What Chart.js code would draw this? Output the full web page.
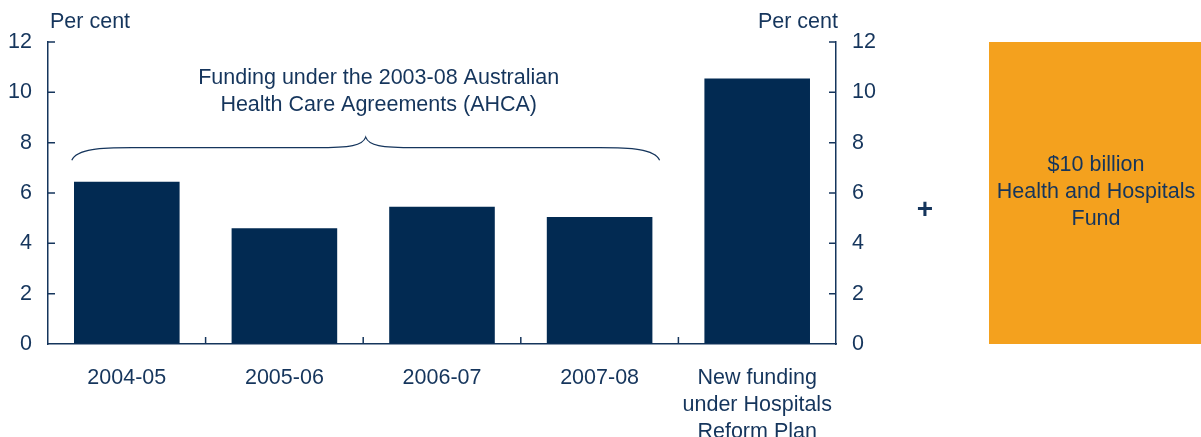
<!DOCTYPE html>
<html>
<head>
<meta charset="utf-8">
<script src="https://cdn.jsdelivr.net/npm/chart.js@4"></script>
<style>
  html, body { margin: 0; padding: 0; background: #fff; }
  canvas { display: block; }
</style>
</head>
<body>
<canvas id="chart" width="1201" height="437"></canvas>
<script>
// ==== DATA ====
const categories = ["2004-05", "2005-06", "2006-07", "2007-08", ["New funding", "under Hospitals", "Reform Plan"]];
const growth = [6.45, 4.6, 5.45, 5.05, 10.55];
const yTicks = [0, 2, 4, 6, 8, 10, 12];
const braceText = ["Funding under the 2003-08 Australian", "Health Care Agreements (AHCA)"];
const boxText = ["$10 billion", "Health and Hospitals", "Fund"];
const unitLabel = "Per cent";

const NAVY = "#022a52";
const TEXT = "#15355c";
const ORANGE = "#f4a11e";
const FONT = "Liberation Sans, Arial, sans-serif";

// ==== EXTRAS: inward ticks, brace, notes, orange box ====
const extras = {
    id: "extras",
    afterDraw(chart) {
        const ctx = chart.ctx;
        const a = chart.chartArea;
        const xs = chart.scales.x;
        const ys = chart.scales.y;
        ctx.save();
        ctx.strokeStyle = TEXT;
        ctx.lineWidth = 1.5;

        // inward y ticks
        yTicks.forEach(v => {
            const py = ys.getPixelForValue(v);
            if (v === 0) return;
            ctx.beginPath();
            ctx.moveTo(a.left, py); ctx.lineTo(a.left + 7, py);
            ctx.moveTo(a.right, py); ctx.lineTo(a.right - 7, py);
            ctx.stroke();
        });

        // x ticks between categories
        const step = (a.right - a.left) / categories.length;
        for (let i = 1; i < categories.length; i++) {
            const px = a.left + i * step;
            ctx.beginPath();
            ctx.moveTo(px, a.bottom); ctx.lineTo(px, a.bottom - 7);
            ctx.stroke();
        }

        // brace over first four bars
        const x0 = xs.getPixelForValue(0) - 55;
        const x1 = xs.getPixelForValue(3) + 60;
        const xm = (x0 + x1) / 2;
        const yEnd = ys.getPixelForValue(7.3);
        const yMid = ys.getPixelForValue(7.8);
        const yTop = ys.getPixelForValue(8.22);
        ctx.lineWidth = 1.2;
        ctx.beginPath();
        ctx.moveTo(x0, yEnd);
        ctx.bezierCurveTo(x0 + 5, yMid + 1, x0 + 30, yMid, x0 + 60, yMid);
        ctx.lineTo(xm - 50, yMid);
        ctx.bezierCurveTo(xm - 15, yMid, xm - 3, yMid - 2, xm, yTop);
        ctx.bezierCurveTo(xm + 3, yMid - 2, xm + 15, yMid, xm + 50, yMid);
        ctx.lineTo(x1 - 60, yMid);
        ctx.bezierCurveTo(x1 - 30, yMid, x1 - 5, yMid + 1, x1, yEnd);
        ctx.stroke();

        ctx.fillStyle = TEXT;
        ctx.font = "21.5px " + FONT;
        ctx.textBaseline = "middle";
        ctx.textAlign = "center";
        braceText.forEach((t, i) => ctx.fillText(t, xm + 13, 78 + i * 27));

        // unit labels
        ctx.textAlign = "left";
        ctx.fillText(unitLabel, a.left + 2, 22);
        ctx.textAlign = "right";
        ctx.fillText(unitLabel, a.right + 2, 22);

        // plus sign
        ctx.textAlign = "center";
        ctx.font = "bold 28px " + FONT;
        ctx.fillText("+", 925, 210);

        // orange box
        ctx.fillStyle = ORANGE;
        ctx.fillRect(989, a.top, 1201 - 989, a.bottom - a.top);
        ctx.fillStyle = TEXT;
        ctx.font = "21.5px " + FONT;
        boxText.forEach((t, i) => ctx.fillText(t, 1096, 165 + i * 27));

        ctx.restore();
    }
};

const tickFont = { family: FONT, size: 21.5 };

new Chart(document.getElementById("chart"), {
    type: "bar",
    data: {
        labels: categories,
        datasets: [{
            data: growth,
            backgroundColor: NAVY,
            barPercentage: 0.67,
            categoryPercentage: 1
        }]
    },
    options: {
        responsive: false,
        animation: false,
        layout: { padding: { top: 42, right: 325, left: 0, bottom: 0 } },
        plugins: { legend: { display: false }, tooltip: { enabled: false } },
        scales: {
            x: {
                grid: { display: false },
                border: { color: TEXT, width: 1.5 },
                ticks: { color: TEXT, font: { ...tickFont, lineHeight: 1.25 }, padding: 13, maxRotation: 0, autoSkip: false },
                afterFit: s => { s.height = 93; }
            },
            y: {
                position: "left",
                min: 0, max: 12,
                grid: { drawOnChartArea: false, drawTicks: false },
                border: { color: TEXT, width: 1.5 },
                ticks: { stepSize: 2, color: TEXT, font: tickFont, padding: 16 },
                afterFit: s => { s.width = 48; }
            },
            y2: {
                position: "right",
                min: 0, max: 12,
                grid: { drawOnChartArea: false, drawTicks: false },
                border: { color: TEXT, width: 1.5 },
                ticks: { stepSize: 2, color: TEXT, font: tickFont, padding: 16 },
                afterFit: s => { s.width = 40; }
            }
        }
    },
    plugins: [extras]
});
</script>
</body>
</html>
